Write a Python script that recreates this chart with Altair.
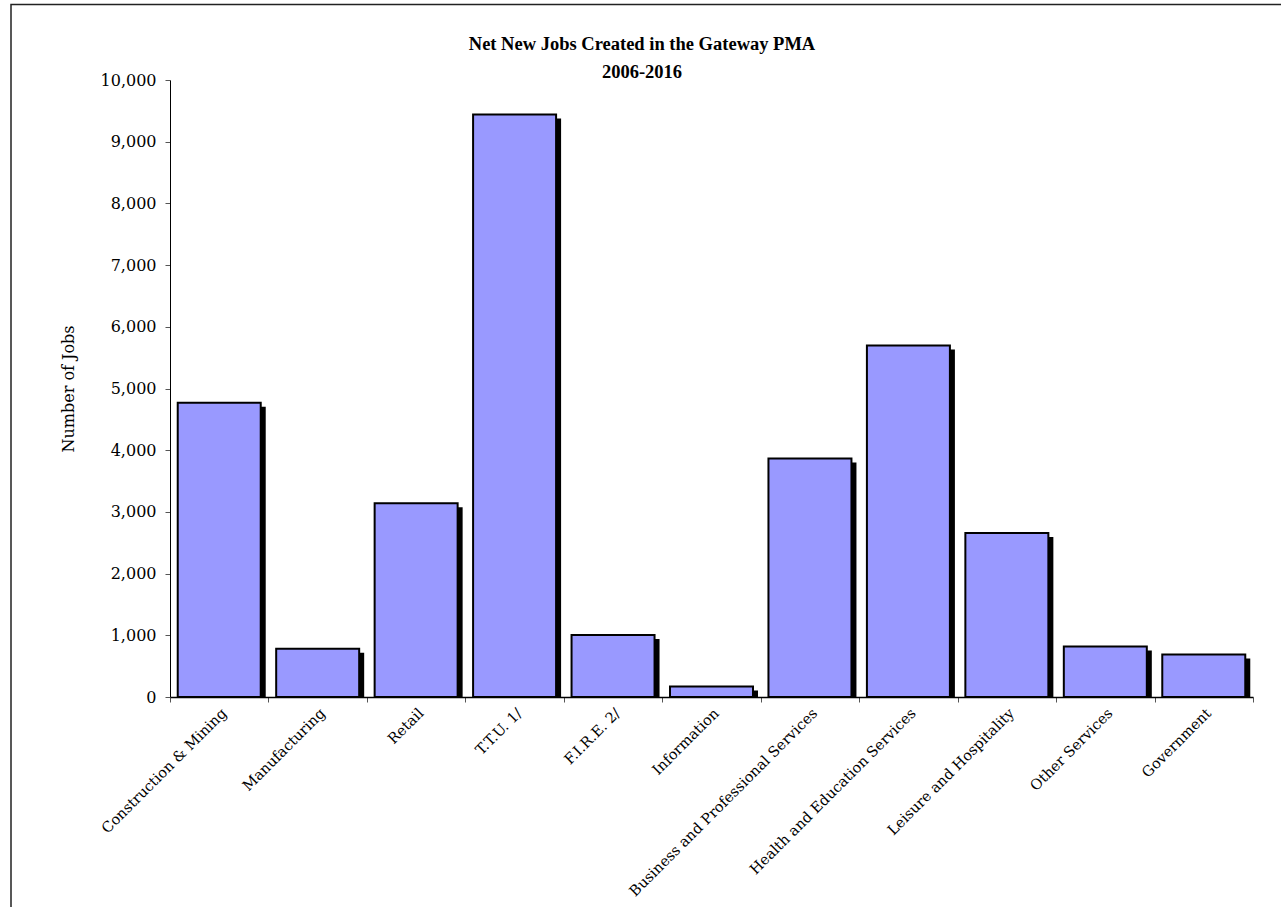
import altair as alt
import pandas as pd

# Net new jobs by industry, 2006-2016
industries = [
    "Construction & Mining",
    "Manufacturing",
    "Retail",
    "T.T.U. 1/",
    "F.I.R.E. 2/",
    "Information",
    "Business and Professional Services",
    "Health and Education Services",
    "Leisure and Hospitality",
    "Other Services",
    "Government",
]
net_jobs = [4770, 783, 3140, 9440, 1005, 172, 3865, 5695, 2660, 820, 690]
y_ticks = list(range(0, 10001, 1000))
title_lines = ["Net New Jobs Created in the Gateway PMA", "2006-2016"]

df = pd.DataFrame({"Industry": industries, "Jobs": net_jobs})
one = pd.DataFrame({"k": [0]})

W, H = 1083, 617
AXIS_FONT = "DejaVu Serif"
TITLE_FONT = "Liberation Serif"
BAR_BAND = 0.843

x_enc = alt.X(
    "Industry:N",
    sort=industries,
    title=None,
    scale=alt.Scale(paddingInner=0, paddingOuter=0),
    axis=alt.Axis(
        labelAngle=-45,
        labelAlign="right",
        labelBaseline="top",
        labelFont=AXIS_FONT,
        labelFontSize=14.5,
        labelColor="black",
        labelPadding=4,
        labelLimit=0,
        labelOverlap=False,
        tickBand="extent",
        tickSize=5,
        tickColor="#555555",
        domainColor="black",
        domainWidth=1.5,
        zindex=1,
    ),
)
y_enc = alt.Y(
    "Jobs:Q",
    title="Number of Jobs",
    scale=alt.Scale(domain=[0, 10000], nice=False),
    axis=alt.Axis(
        values=y_ticks,
        format=",.0f",
        grid=False,
        labelFont=AXIS_FONT,
        labelFontSize=16,
        labelColor="black",
        labelPadding=9,
        tickSize=5,
        tickColor="#555555",
        domainColor="black",
        domainWidth=1,
        titleFont=AXIS_FONT,
        titleFontSize=16,
        titleFontWeight="normal",
        titleColor="black",
        titlePadding=24,
    ),
)

# drop shadow behind each bar, clipped at the baseline
shadow = alt.Chart(df).mark_bar(
    color="black",
    width=alt.RelativeBandSize(BAR_BAND),
    xOffset=5,
    x2Offset=5,
    yOffset=4,
    clip=True,
).encode(x=x_enc, y=y_enc)

bars = alt.Chart(df).mark_bar(
    color="#9999FF",
    stroke="black",
    strokeWidth=2,
    width=alt.RelativeBandSize(BAR_BAND),
).encode(x=x_enc, y=y_enc)

# outer frame around the whole figure
frame = alt.Chart(one).mark_rect(
    filled=False, stroke="#222222", strokeWidth=1.5, clip=False
).encode(
    x=alt.value(-159),
    x2=alt.value(1150),
    y=alt.value(-75.5),
    y2=alt.value(850),
)

# two-line heading
heading = [
    alt.Chart(one).mark_text(
        text=line,
        font=TITLE_FONT,
        fontSize=18.5,
        fontWeight="bold",
        color="black",
        align="center",
        baseline="alphabetic",
    ).encode(x=alt.value(472), y=alt.value(ypos))
    for line, ypos in zip(title_lines, [-30, -2])
]

chart = (
    alt.layer(frame, shadow, bars, *heading)
    .properties(
        width=W,
        height=H,
        padding={"left": 170, "top": 80, "right": 28, "bottom": 210},
        autosize="none",
    )
    .configure(background="white")
    .configure_view(stroke="transparent", strokeWidth=0)
)

chart.save("out.html", embed_options={"renderer": "svg", "actions": False})
